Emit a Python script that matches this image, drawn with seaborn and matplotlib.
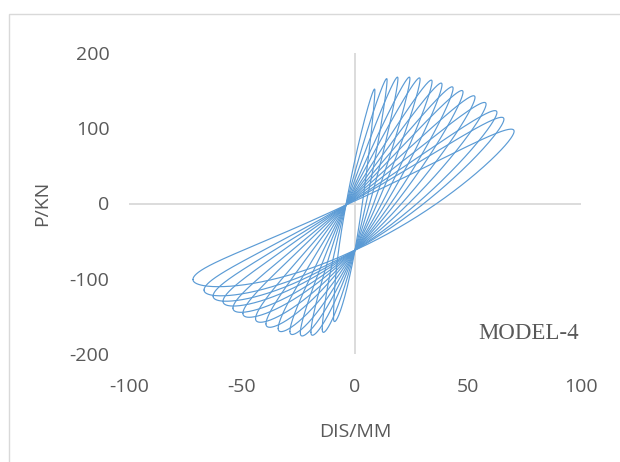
import numpy as np
import pandas as pd
import matplotlib
matplotlib.use("Agg")
import matplotlib.pyplot as plt
import seaborn as sns
from matplotlib.patches import Rectangle

# ---- data (per hysteresis cycle, inner -> outer) ----
pos_disp = [8.8, 14.2, 19.0, 24.3, 28.8, 34.1, 38.5, 43.4, 47.8, 53.1, 58.0, 62.8, 65.9, 70.4]
pos_load = [150, 164, 166, 166, 165, 162, 158, 153, 148, 141, 132, 121, 112, 96]
neg_disp = [-9.5, -14.5, -19.5, -24.2, -28.8, -34.0, -39.4, -44.0, -49.6, -54.0, -58.4, -62.8, -66.8, -71.7]
neg_load = [-152, -167, -171, -172, -170, -166, -160, -153, -146, -139, -130, -123, -115, -101]
# points that all reloading / unloading branches pass through
reload_focus = (-4.0, -2.0)     # (DIS, P) where reloading branches converge
unload_focus = (0.0, -62.0)     # (DIS, P) where unloading branches converge

x_ticks = [-100, -50, 0, 50, 100]
y_ticks = [-200, -100, 0, 100, 200]
x_title = "DIS/MM"
y_title = "P/KN"
model_label = "MODEL-4"

# ---- build loop table ----
s = (reload_focus[1] - unload_focus[1]) / 2.0
g = (reload_focus[1] + unload_focus[1]) / 2.0
t = np.linspace(-np.pi / 2, 1.5 * np.pi, 481)
sn, cs = np.sin(t), np.cos(t)
rows = []
for k in range(len(pos_disp)):
    amp = np.where(sn >= 0, pos_disp[k], -neg_disp[k])
    pk = np.where(sn >= 0, pos_load[k], -neg_load[k])
    xs = amp * sn + np.where(cs > 0, reload_focus[0], unload_focus[0]) * cs ** 2
    ys = pk * sn + s * cs + g * cs ** 2
    rows.append(pd.DataFrame({"x": xs, "y": ys, "cycle": k}))
df = pd.concat(rows, ignore_index=True)

# ---- figure ----
sns.set_theme(style="white")
plt.rcParams["font.family"] = ["Open Sans", "DejaVu Sans"]
W, H = 620, 462
fig = plt.figure(figsize=(W / 100, H / 100), dpi=100)
ax = fig.add_axes([129 / W, 1 - 354 / H, (581 - 129) / W, (354 - 53) / H])

sns.lineplot(data=df, x="x", y="y", units="cycle", estimator=None, sort=False,
             color="#5B9BD5", linewidth=0.85, ax=ax, legend=False, zorder=3)

ax.set_xlim(-100, 100)
ax.set_ylim(-200, 200)
for sp in ax.spines.values():
    sp.set_visible(False)
ax.axhline(0, color="#d9d9d9", lw=1.3, zorder=1)
ax.axvline(0, color="#d9d9d9", lw=1.3, zorder=1)
ax.set_xticks(x_ticks)
ax.set_yticks(y_ticks)
ax.set_xticklabels([str(v) for v in x_ticks])
ax.set_yticklabels([str(v) for v in y_ticks])
ax.tick_params(axis="both", length=0, labelsize=14, labelcolor="#595959")
ax.tick_params(axis="x", pad=17)
ax.tick_params(axis="y", pad=14)
ax.set_xlabel("")
ax.set_ylabel("")
ax.grid(False)

ax.text(77, -173, model_label, ha="center", va="center", fontsize=16.5,
        family="Liberation Serif", color="#595959")

fig.text(355 / W, 1 - 432 / H, x_title, ha="center", va="center",
         fontsize=14, color="#595959")
fig.text(42 / W, 1 - 203 / H, y_title, ha="center", va="center", rotation=90,
         fontsize=14, color="#595959")

fig.patches.append(Rectangle((8.5 / W, -0.2), 2.0, 1.2 - 13.5 / H,
                             transform=fig.transFigure, fill=False,
                             edgecolor="#d9d9d9", lw=1.0))

fig.savefig("out.png", dpi=100)
